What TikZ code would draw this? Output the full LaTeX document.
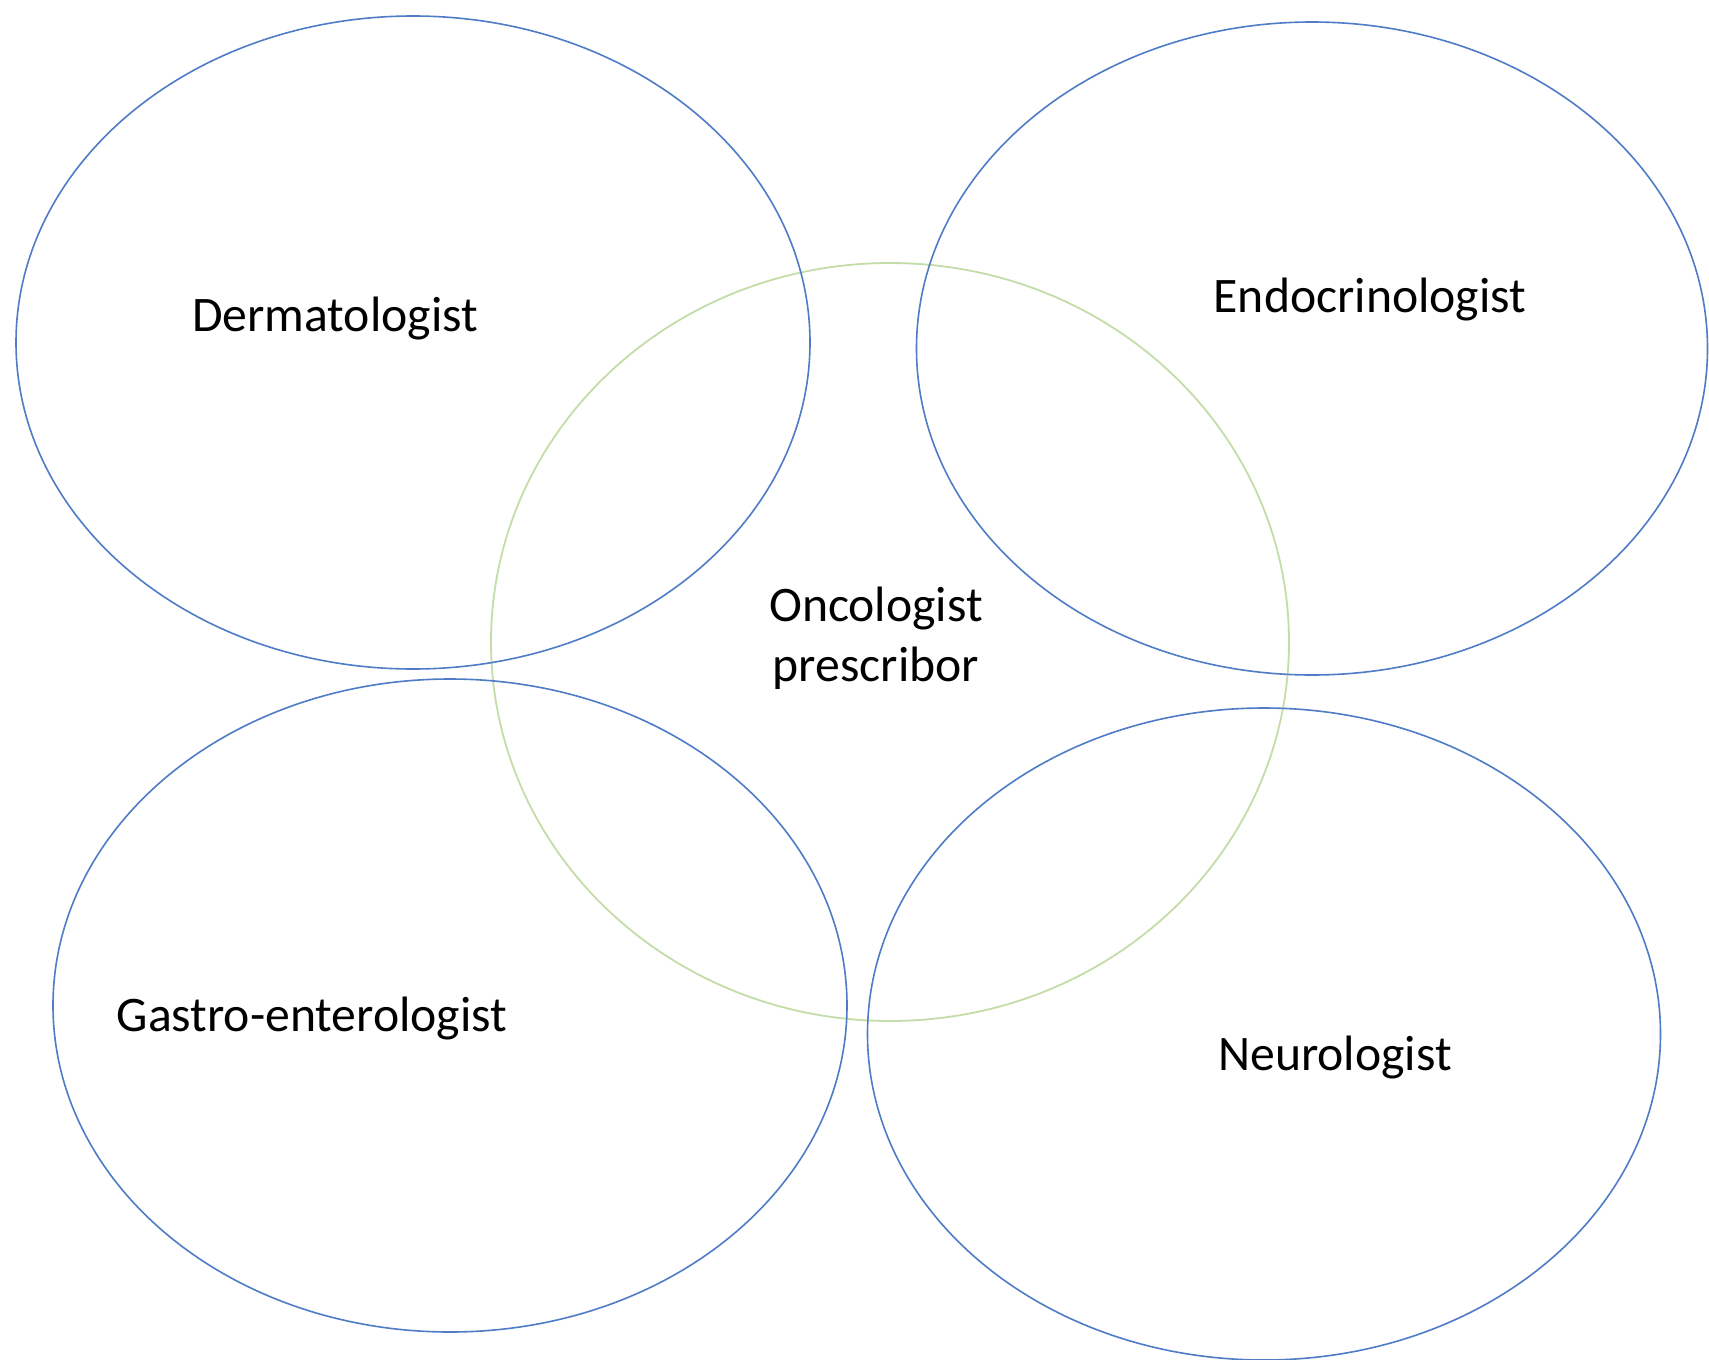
\documentclass[tikz,border=0pt]{standalone}
\usepackage{fontspec}
\setmainfont{Carlito}
\definecolor{ringblue}{HTML}{4F7CC6}
\definecolor{ringgreen}{HTML}{C4DDA8}
\begin{document}
\begin{tikzpicture}[x=1pt,y=-1pt,
  ring/.style={draw=ringblue,line width=1.6pt},
  core/.style={draw=ringgreen,line width=1.8pt},
  lbl/.style={font=\fontsize{49.7}{60.5}\selectfont,text=black,inner sep=0pt,align=center}]
\useasboundingbox[fill=white] (0,0) rectangle (1709,1360);
\draw[core] (890,642) ellipse [x radius=399,y radius=379];
\draw[ring] (413,342.5) ellipse [x radius=397,y radius=326.5];
\draw[ring] (1312,348.5) ellipse [x radius=395.5,y radius=326.5];
\draw[ring] (450,1005.5) ellipse [x radius=397,y radius=326.5];
\draw[ring] (1264,1034) ellipse [x radius=396.5,y radius=326];
\node[lbl] (derm) at (335,319) {Dermatologist};
\node[lbl] (endo) at (1370,300) {Endocrinologist};
\node[lbl] (onc) at (876,638) {Oncologist\\prescribor};
\node[lbl] (gastro) at (312,1019) {Gastro-enterologist};
\node[lbl] (neuro) at (1335,1058) {Neurologist};
\end{tikzpicture}
\end{document}
